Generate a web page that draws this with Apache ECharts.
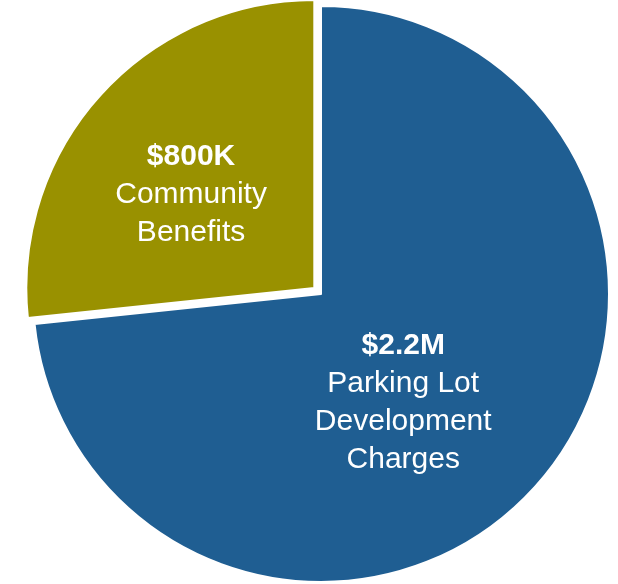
<!DOCTYPE html>
<html>
<head>
<meta charset="utf-8">
<script src="https://cdn.jsdelivr.net/npm/echarts@6/dist/echarts.min.js"></script>
<style>
  html, body { margin: 0; padding: 0; background: #fff; }
  #chart { width: 618px; height: 584px; }
</style>
</head>
<body>
<div id="chart"></div>
<script>
// slice data, clockwise from 12 o'clock
const amounts = ["$2.2M", "$800K"];
const names = ["Parking Lot\nDevelopment\nCharges", "Community\nBenefits"];
const values = [2.2, 0.8];
const colors = ["#1f5e92", "#999100"];

const font = "'Liberation Sans', Arial, sans-serif";
const chart = echarts.init(document.getElementById("chart"));

const data = values.map((v, i) => ({
  value: v,
  name: names[i],
  amount: amounts[i],
  selected: i === 1,
  itemStyle: { color: colors[i] }
}));

chart.setOption({
  animation: false,
  series: [
    {
      type: "pie",
      center: [321, 294],
      radius: 288,
      startAngle: 90,
      clockwise: true,
      selectedMode: "single",
      selectedOffset: 9,
      avoidLabelOverlap: false,
      itemStyle: {
        borderColor: "#fff",
        borderWidth: 2
      },
      emphasis: { scale: false },
      label: {
        show: true,
        position: "inside",
        color: "#fff",
        fontFamily: font,
        formatter: function (p) {
          const lines = p.name.split("\n").map(s => "{n|" + s + "}");
          return "{b|" + p.data.amount + "}\n" + lines.join("\n");
        },
        rich: {
          b: { fontSize: 30, fontWeight: "bold", color: "#fff", lineHeight: 38, fontFamily: font },
          n: { fontSize: 30, color: "#fff", lineHeight: 38, fontFamily: font }
        }
      },
      labelLayout: function (p) {
        return p.dataIndex === 0 ? { dx: -27, dy: 10 } : { dx: -14, dy: 5 };
      },
      labelLine: { show: false },
      data: data
    }
  ]
});
</script>
</body>
</html>
